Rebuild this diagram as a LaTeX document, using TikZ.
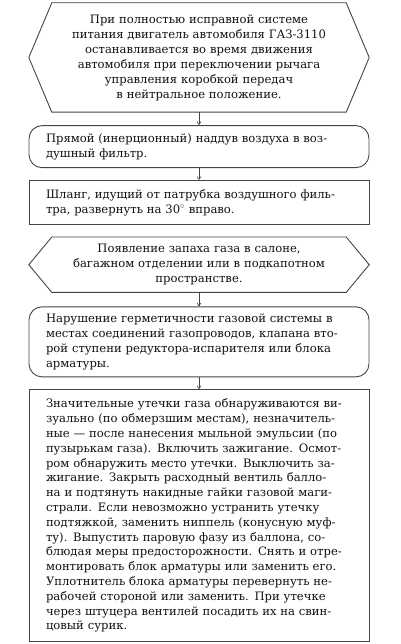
\documentclass[tikz,border=0pt]{standalone}
\usepackage{fontspec}
\setmainfont{DejaVu Serif}
\usepackage{tikz}
\usetikzlibrary{arrows.meta, positioning, calc}
\definecolor{linegray}{HTML}{444444}
\definecolor{textgray}{HTML}{111111}
\tikzstyle{hexcore} = [rectangle, minimum width=294pt, text width=294pt, align=center, inner sep=0pt, text=textgray, font=\fontsize{11.6}{15}\selectfont]
\tikzstyle{hexline} = [draw=linegray, line width=0.9pt]
\tikzstyle{roundbox} = [rectangle, rounded corners=13pt, draw=linegray, line width=0.9pt, minimum width=340pt, text width=306pt, inner xsep=17pt, inner ysep=0pt, text=textgray, font=\fontsize{11.6}{15}\selectfont]
\tikzstyle{stepbox} = [rectangle, draw=linegray, line width=0.9pt, minimum width=340pt, text width=306pt, inner xsep=17pt, inner ysep=0pt, text=textgray, font=\fontsize{11.6}{14.8}\selectfont]
\tikzstyle{link} = [-{Straight Barb[length=3pt,width=4pt]}, draw=linegray, line width=0.6pt]
\newcommand{\jl}[1]{\makebox[\linewidth][s]{#1}\\}

\begin{document}
\begin{tikzpicture}[x=1pt, y=1pt]
\useasboundingbox (0,0) rectangle (400,-644);
\node (hex1) [hexcore, minimum height=109pt] at (199,-57.5) {При полностью исправной системе\\ питания двигатель автомобиля ГАЗ-3110\\ останавливается во время движения\\ автомобиля при переключении рычага\\ управления коробкой передач\\ в нейтральное положение.};
\node (round1) [roundbox, minimum height=42pt, below=13pt of hex1] {\jl{Прямой (инерционный) наддув воздуха в воз-}душный фильтр.};
\node (rect2) [stepbox, minimum height=44pt, below=12pt of round1] {\jl{Шланг, идущий от патрубка воздушного филь-}тра, развернуть на 30$^{\circ}$ вправо.};
\node (hex2) [hexcore, minimum height=55pt, below=12pt of rect2] {Появление запаха газа в салоне,\\ багажном отделении или в подкапотном\\ пространстве.};
\node (round2) [roundbox, minimum height=70pt, below=14pt of hex2] {\jl{Нарушение герметичности газовой системы в}\jl{местах соединений газопроводов, клапана вто-}\jl{рой ступени редуктора-испарителя или блока}арматуры.};
\node (rect3) [stepbox, minimum height=252pt, below=12pt of round2] {\jl{Значительные утечки газа обнаруживаются ви-}\jl{зуально (по обмерзшим местам), незначитель-}\jl{ные — после нанесения мыльной эмульсии (по}\jl{пузырькам газа). Включить зажигание. Осмот-}\jl{ром обнаружить место утечки. Выключить за-}\jl{жигание. Закрыть расходный вентиль балло-}\jl{на и подтянуть накидные гайки газовой маги-}\jl{страли. Если невозможно устранить утечку}\jl{подтяжкой, заменить ниппель (конусную муф-}\jl{ту). Выпустить паровую фазу из баллона, со-}\jl{блюдая меры предосторожности. Снять и отре-}\jl{монтировать блок арматуры или заменить его.}\jl{Уплотнитель блока арматуры перевернуть не-}\jl{рабочей стороной или заменить. При утечке}\jl{через штуцера вентилей посадить их на свин-}цовый сурик.};

% hexagon outlines round the two cores
\draw[hexline] (hex1.north west) -- (hex1.north east) -- ([xshift=23pt]hex1.east) -- (hex1.south east) -- (hex1.south west) -- ([xshift=-23pt]hex1.west) -- cycle;
\draw[hexline] (hex2.north west) -- (hex2.north east) -- ([xshift=23pt]hex2.east) -- (hex2.south east) -- (hex2.south west) -- ([xshift=-23pt]hex2.west) -- cycle;

\draw[link] (hex1) -- (round1);
\draw[link] (round1) -- (rect2);
\draw[link] (hex2) -- (round2);
\draw[link] (round2) -- (rect3);
\end{tikzpicture}
\end{document}
